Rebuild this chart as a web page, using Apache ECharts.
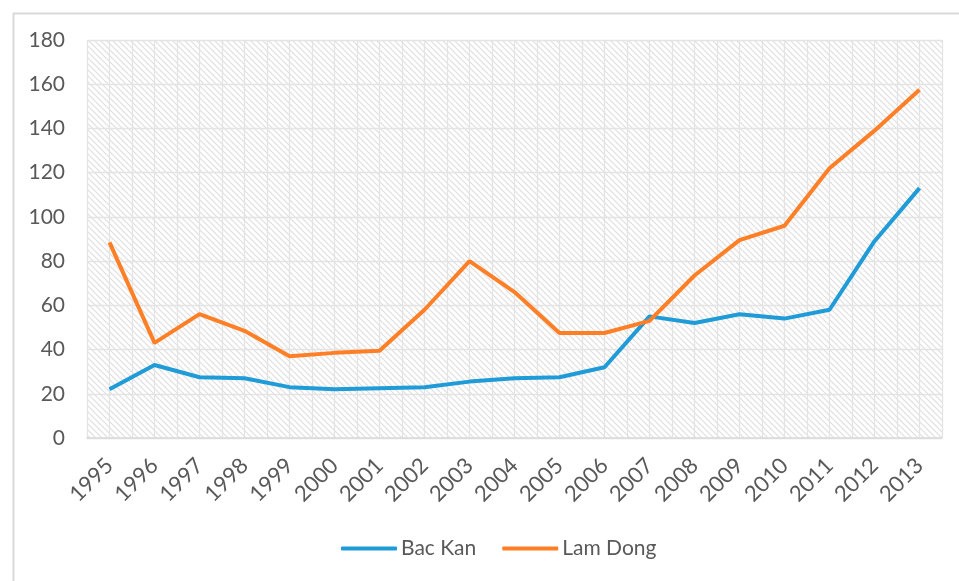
<!DOCTYPE html>
<html>
<head>
<meta charset="utf-8">
<script src="https://cdn.jsdelivr.net/npm/echarts@6/dist/echarts.min.js"></script>
<style>
  html, body { margin: 0; padding: 0; background: #fff; }
  #chart { width: 959px; height: 581px; }
</style>
</head>
<body>
<div id="chart"></div>
<script>
// Years on the category axis
const years = ['1995','1996','1997','1998','1999','2000','2001','2002','2003','2004',
               '2005','2006','2007','2008','2009','2010','2011','2012','2013'];

// Series values per province
const bacKan = [22, 33, 27.5, 27, 23, 22, 22.5, 23, 25.5, 27, 27.5, 32, 55, 52, 56, 54, 58, 89, 113];
const lamDong = [88.5, 43, 56, 48.5, 37, 38.5, 39.5, 58, 80, 66, 47.5, 47.5, 53, 73.5, 89.5, 96, 122, 139, 157.5];

// Value axis ticks
const yTicks = [0, 20, 40, 60, 80, 100, 120, 140, 160, 180];

const FONT = 'Lato, "Open Sans", sans-serif';
const TEXT = '#595959';
const GRID_LINE = '#e4e4e4';

// Diagonal hatch tile for the plot background
function hatchTile() {
  const s = 6;
  const c = document.createElement('canvas');
  c.width = s; c.height = s;
  const g = c.getContext('2d');
  g.fillStyle = '#ffffff';
  g.fillRect(0, 0, s, s);
  g.strokeStyle = '#dfdfdf';
  g.lineWidth = 1.2;
  g.beginPath();
  g.moveTo(-1, -1); g.lineTo(s + 1, s + 1);
  g.moveTo(-1, s - 1); g.lineTo(1, s + 1);
  g.moveTo(s - 1, -1); g.lineTo(s + 1, 1);
  g.stroke();
  return c;
}

const chart = echarts.init(document.getElementById('chart'));
chart.setOption({
  animation: false,
  backgroundColor: '#ffffff',
  textStyle: { fontFamily: FONT },
  graphic: [{
    type: 'rect',
    left: 11, top: 11,
    shape: { width: 1000, height: 600 },
    style: { fill: 'none', stroke: '#d9d9d9', lineWidth: 2 },
    silent: true
  }],
  grid: {
    left: 87, right: 17, top: 40, bottom: 143,
    show: true,
    borderWidth: 0,
    backgroundColor: { image: hatchTile(), repeat: 'repeat' }
  },
  xAxis: [{
    type: 'category',
    data: years,
    boundaryGap: true,
    axisLine: { show: true, lineStyle: { color: '#d9d9d9', width: 1.5 } },
    axisTick: { show: false },
    splitLine: { show: false },
    axisLabel: {
      interval: 0, rotate: 45, color: TEXT, fontSize: 22, fontFamily: FONT, margin: 24
    }
  }, {
    // half-slot vertical gridlines
    type: 'value',
    position: 'bottom',
    min: 0, max: years.length, interval: 0.5,
    axisLine: { show: false }, axisTick: { show: false }, axisLabel: { show: false },
    splitLine: { show: true, lineStyle: { color: GRID_LINE, width: 1.3 } }
  }],
  yAxis: {
    type: 'value',
    min: yTicks[0], max: yTicks[yTicks.length - 1], interval: yTicks[1] - yTicks[0],
    axisLine: { show: false }, axisTick: { show: false },
    splitLine: { show: true, lineStyle: { color: GRID_LINE, width: 1.3 } },
    axisLabel: { color: TEXT, fontSize: 21, fontFamily: FONT, margin: 22 }
  },
  legend: {
    bottom: 17, left: 336,
    itemWidth: 56, itemHeight: 4, itemGap: 26,
    icon: 'roundRect',
    textStyle: { color: TEXT, fontSize: 21, fontFamily: FONT, padding: [0, 0, 0, -1] },
    data: ['Bac Kan', 'Lam Dong']
  },
  series: [{
    name: 'Bac Kan', type: 'line', data: bacKan, xAxisIndex: 0,
    symbol: 'none', lineStyle: { color: '#1f9bd7', width: 4 }, itemStyle: { color: '#1f9bd7' }
  }, {
    name: 'Lam Dong', type: 'line', data: lamDong, xAxisIndex: 0,
    symbol: 'none', lineStyle: { color: '#ff7f27', width: 4 }, itemStyle: { color: '#ff7f27' }
  }]
});
</script>
</body>
</html>
